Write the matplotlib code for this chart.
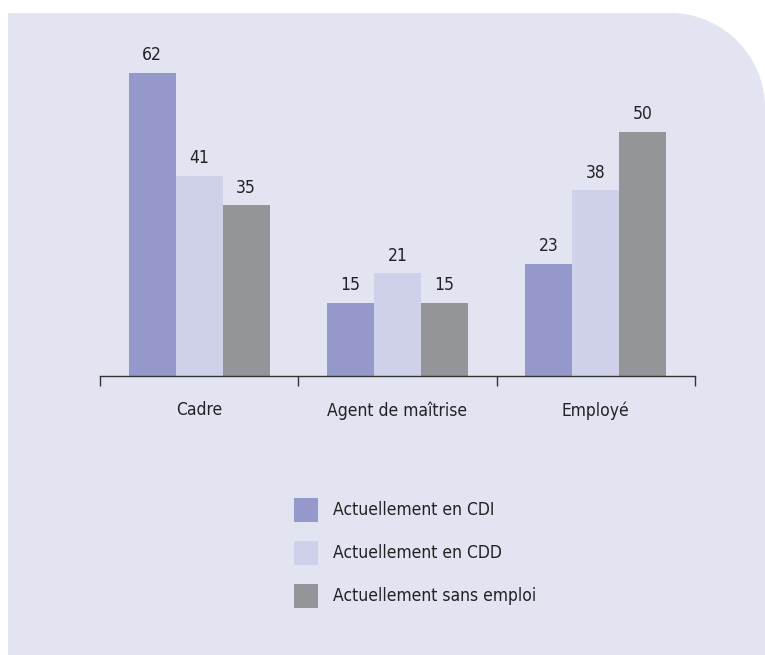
import numpy as np
import matplotlib
matplotlib.use("Agg")
import matplotlib.pyplot as plt
from matplotlib.patches import Polygon, Rectangle
import warnings
warnings.filterwarnings("ignore")

categories = ["Cadre", "Agent de maîtrise", "Employé"]
series_names = ["Actuellement en CDI", "Actuellement en CDD", "Actuellement sans emploi"]
cdi = [62, 15, 23]
cdd = [41, 21, 38]
sans_emploi = [35, 15, 50]
colors = ["#9598CA", "#CFD1EB", "#939598"]
bg = "#E2E4F2"

plt.rcParams['font.family'] = ['DejaVu Sans']
plt.rcParams['font.stretch'] = 'condensed'
FS = 12.5

W, H = 765, 655
fig = plt.figure(figsize=(W / 100, H / 100), dpi=100, facecolor="white")

# background panel with rounded top-right corner (pixel coords -> figure fraction)
x0, y0, x1, y1, r = 8, 13, 765, 655, 95
pts = [(x0, y1), (x0, y0), (x1 - r, y0)]
for a in np.linspace(-np.pi / 2, 0, 40):
    pts.append((x1 - r + r * np.cos(a), y0 + r + r * np.sin(a)))
pts.append((x1, y1))
pts = [(px / W, 1 - py / H) for px, py in pts]
fig.patches.append(Polygon(pts, closed=True, transform=fig.transFigure,
                           facecolor=bg, edgecolor="none", zorder=-5))

ax = fig.add_axes([100 / W, (H - 376) / H, 595 / W, 356 / H])
ax.set_zorder(2)
ax.set_facecolor("none")
x = np.arange(len(categories))
bw = 0.237
series = [cdi, cdd, sans_emploi]
for i, (vals, col) in enumerate(zip(series, colors)):
    pos = x + (i - 1) * bw
    bars = ax.bar(pos, vals, width=bw, color=col, edgecolor="none", zorder=2)
    for b, v in zip(bars, vals):
        ax.annotate(str(v), (b.get_x() + b.get_width() / 2, v),
                    xytext=(0, 6), textcoords="offset points",
                    ha="center", va="bottom", fontsize=FS, color="#222222")

ax.set_xlim(-0.5, 2.5)
ax.set_ylim(0, 356 / 4.89)
for s in ["top", "left", "right"]:
    ax.spines[s].set_visible(False)
ax.spines["bottom"].set_color("#333333")
ax.spines["bottom"].set_linewidth(1.0)
ax.set_yticks([])
ax.set_xticks([-0.5, 0.5, 1.5, 2.5])
ax.set_xticklabels([])
ax.tick_params(axis="x", which="major", direction="out", length=7.5, width=1.0, color="#333333")
ax.set_xticks(x, minor=True)
ax.set_xticklabels(categories, minor=True, fontsize=FS, color="#222222")
ax.tick_params(axis="x", which="minor", length=0, pad=18)

# legend
for i, (name, col) in enumerate(zip(series_names, colors)):
    top = 498 + i * 43
    fig.patches.append(Rectangle((294 / W, 1 - (top + 24) / H), 24 / W, 24 / H,
                                 transform=fig.transFigure, facecolor=col,
                                 edgecolor="none", zorder=3))
    fig.text(333 / W, 1 - (top + 12) / H, name, ha="left", va="center",
             fontsize=FS, color="#222222")

fig.savefig("out.png", dpi=100, facecolor="white")
